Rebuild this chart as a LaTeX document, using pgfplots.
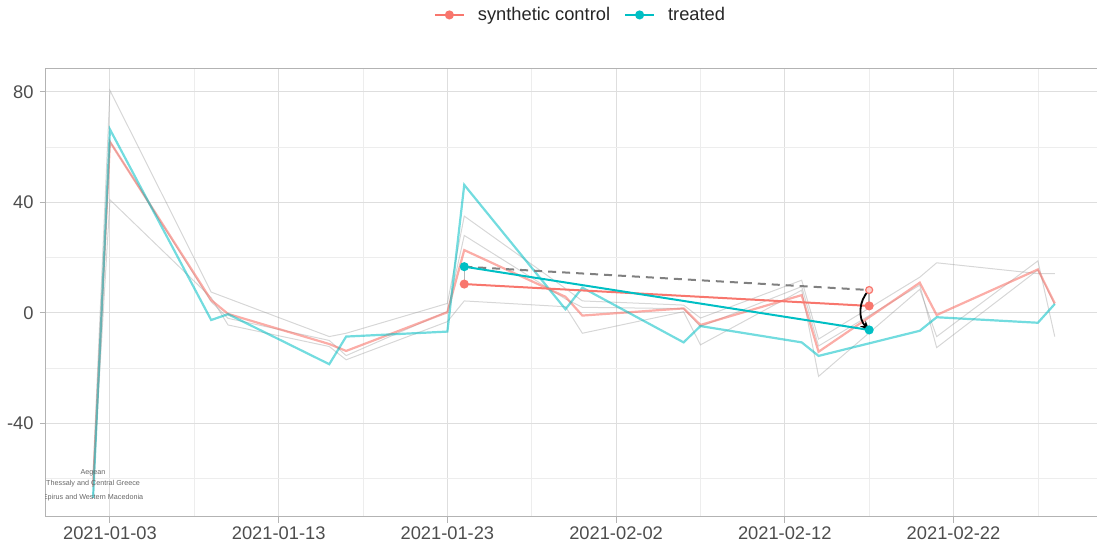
\documentclass[border=0pt]{standalone}
\usepackage{pgfplots}
\pgfplotsset{compat=1.18}
\usepackage{pgfplotstable}
\usepackage{fontspec}
\setmainfont{Liberation Sans}
\usetikzlibrary{arrows.meta}
\definecolor{scred}{HTML}{F8766D}
\definecolor{trcyan}{HTML}{00BFC4}
\definecolor{framec}{HTML}{B3B3B3}
\definecolor{gridc}{HTML}{DEDEDE}
\definecolor{ticklab}{HTML}{4D4D4D}

\pgfplotstableread{
day  A     B     C     tr     sc
-1  -58   -62   -67   -67    -63
0    80.5  40.9  62    66.4   61.9
6    7.5   5.5   4    -2.6    4.6
7    5.2  -4.4  -2    -0.5   -0.4
13  -8.6 -12.2 -10   -18.6  -11.3
14  -7.4 -17   -15.5  -8.6  -13.8
20   3.4  -3.2   0.5  -6.8    0.2
21   35    4.3  28    46.3   22.7
27   8.8   2.2   5     1.3    5.8
28   4.3  -7.4   2     9.1   -1.0
34   2.8   0.4   1.5 -10.7    1.6
35  -1.9 -11.6  -5    -4.8   -4.4
41   11.8  8.2   9.5 -10.7    6.4
42  -9.5 -23   -12   -15.6  -14.1
48   12.9  8.5  10    -6.5   10.9
49   18.1 -8.6 -12.6  -1.6   -0.8
55   14.2 18.8  15.5  -3.6   15.7
56   14.2 -8.6   3     3.2    3.4
}\datatab

\begin{document}
\begin{tikzpicture}
\path[use as bounding box] (-46pt,-33.3pt) rectangle (1051pt,516.7pt);
\begin{axis}[
  scale only axis, width=1053pt, height=448.4pt,
  xmin=-3.79, xmax=58.62, ymin=-73.8, ymax=88.5,
  axis line style={framec, line width=1pt},
  xtick={0,10,20,30,40,50},
  xticklabels={2021-01-03,2021-01-13,2021-01-23,2021-02-02,2021-02-12,2021-02-22},
  minor xtick={5,15,25,35,45,55},
  ytick={-40,0,40,80}, yticklabels={-40,0,40,80},
  minor ytick={-60,-20,20,60},
  grid=both,
  major grid style={gridc, line width=0.9pt},
  minor grid style={gridc!55, line width=0.7pt},
  tick align=outside,
  major tick length=6pt, minor tick length=0pt,
  tick style={framec, line width=1pt},
  xtick pos=left, ytick pos=left,
  ticklabel style={font=\fontsize{18.3}{22}\selectfont, text=ticklab},
  yticklabel style={xshift=-3pt},
  legend style={at={(axis description cs:0.5076,1.119)}, anchor=center, draw=none, fill=none,
    legend columns=2, font=\fontsize{18.3}{22}\selectfont, text=black!85,
    /tikz/every odd column/.append style={column sep=11pt},
    /tikz/every even column/.append style={column sep=12pt}},
  legend image code/.code={\draw[mark repeat=2,mark phase=2,#1] plot coordinates {(0pt,0pt) (14.5pt,0pt) (29pt,0pt)};},
]
\addlegendimage{scred, line width=2pt, mark=*, mark size=3.5pt}
\addlegendentry{synthetic control}
\addlegendimage{trcyan, line width=2pt, mark=*, mark size=3.5pt}
\addlegendentry{treated}

\addplot[forget plot, black!45, opacity=0.35, line width=1pt] table[x=day,y=A] {\datatab};
\addplot[forget plot, black!45, opacity=0.35, line width=1pt] table[x=day,y=B] {\datatab};
\addplot[forget plot, black!45, opacity=0.35, line width=1pt] table[x=day,y=C] {\datatab};
\addplot[forget plot, scred, opacity=0.6, line width=2.2pt] table[x=day,y=sc] {\datatab};
\addplot[forget plot, trcyan, opacity=0.55, line width=2.2pt] table[x=day,y=tr] {\datatab};

\addplot[forget plot, black!50, line width=2pt, dash pattern=on 8pt off 6pt] coordinates {(21,16.7) (45,8.25)};
\addplot[forget plot, black!40, opacity=0.7, line width=1.5pt] coordinates {(21,16.7) (21,10.4)};
\addplot[forget plot, black!40, opacity=0.7, line width=1.5pt] coordinates {(45,8.25) (45,2.5)};
\addplot[forget plot, scred, line width=2pt, mark=*, mark size=3.5pt] coordinates {(21,10.4) (45,2.5)};
\addplot[forget plot, trcyan, line width=2pt, mark=*, mark size=3.5pt] coordinates {(21,16.7) (45,-6.2)};
\addplot[forget plot, only marks, scred, mark=*, mark size=3.5pt, mark options={fill=scred!35, draw=scred, line width=1.2pt}] coordinates {(45,8.25)};
\draw[-{Stealth[length=9pt,width=8pt]}, line width=1.8pt, black] (axis cs:45,8.25) to[bend right=45] (axis cs:45,-6.2);

\begin{scope}
\clip (rel axis cs:0,0) rectangle (rel axis cs:1,1);
\node[font=\fontsize{7.2}{8}\selectfont, text=black!60] at (axis cs:-1,-57.9) {Aegean};
\node[font=\fontsize{7.2}{8}\selectfont, text=black!60] at (axis cs:-1,-62.0) {Thessaly and Central Greece};
\node[font=\fontsize{7.2}{8}\selectfont, text=black!60] at (axis cs:-1,-67.0) {Epirus and Western Macedonia};
\end{scope}
\end{axis}
\end{tikzpicture}
\end{document}
